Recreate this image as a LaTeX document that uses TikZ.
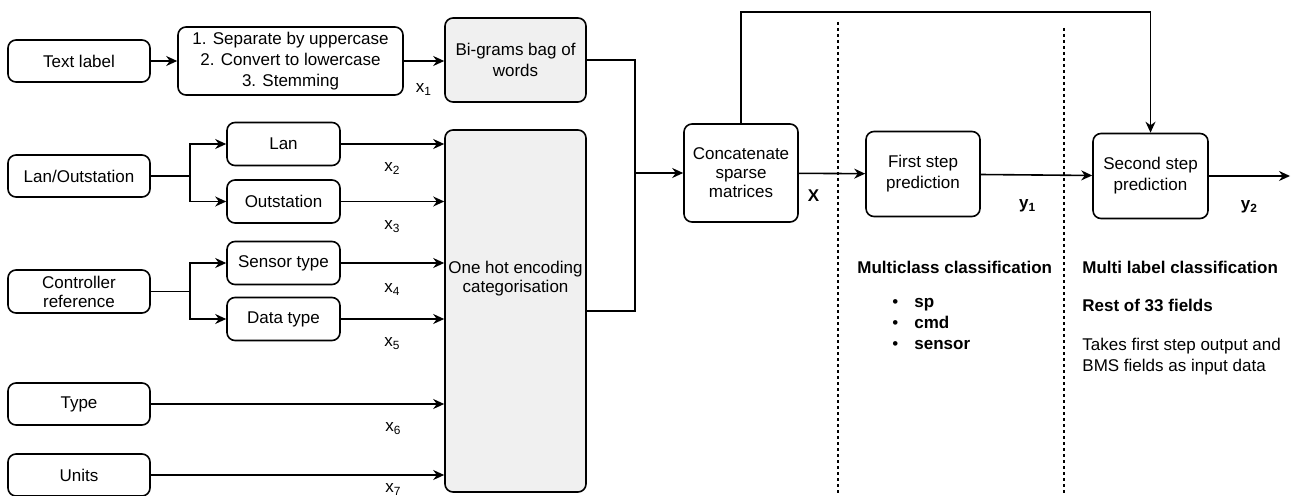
\documentclass[tikz,border=0pt]{standalone}
\usepackage{fontspec}
\setmainfont{Liberation Sans}
\usetikzlibrary{arrows.meta,positioning}
\definecolor{BoxGrey}{HTML}{F0F0F0}

\begin{document}
\begin{tikzpicture}[x=0.5pt,y=-0.5pt, every node/.style={font=\fontsize{8.5}{10.5}\selectfont}, box/.style={draw,rounded corners=4pt,align=center,line width=0.8pt,fill=white,inner sep=1pt}, wide/.style={box,minimum width=71pt,minimum height=21pt}, small/.style={box,minimum width=56.5pt,minimum height=21.5pt}, arr/.style={-{Stealth[length=5.5pt,width=5pt]},line width=0.8pt}, line/.style={line width=0.8pt}, sep/.style={line width=1pt,dash pattern=on 1.5pt off 1.5pt}, lbl/.style={inner sep=0pt}]
\useasboundingbox (0,0) rectangle (1293,496);
% inputs
\node[wide] (txt) at (79,61) {Text label};
\node[wide] (lanout) at (79,176) {Lan/Outstation};
\node[wide,minimum height=21.5pt] (ctrl) at (79,291.5) {Controller\\[-1pt]reference};
\node[wide] (type) at (79,404) {Type};
\node[wide] (units) at (79,475) {Units};
% preprocessing
\node[box,minimum width=112.5pt,minimum height=34pt] (prep) at (290.5,61) {1. Separate by uppercase\\2. Convert to lowercase\\3. Stemming};
\node[small] (lan) at (283.5,144) {Lan};
\node[small] (out) at (283.5,201.5) {Outstation};
\node[small] (sens) at (283.5,263) {Sensor type};
\node[small] (dtype) at (283.5,319) {Data type};
% encoding
\node[box,fill=BoxGrey,minimum width=70.5pt,minimum height=42pt] (bow) at (515.5,60) {Bi-grams bag of\\words};
\node[box,fill=BoxGrey,minimum width=70.5pt,minimum height=181pt] (onehot) at (515.5,311) {};
\node[lbl,align=center] (ohtxt) at (515.5,279) {One hot encoding\\[-1pt]categorisation};
% model
\node[box,minimum width=57pt,minimum height=49pt] (concat) at (741,173) {Concatenate\\[-1pt]sparse\\[-1pt]matrices};
\node[box,minimum width=57pt,minimum height=42.5pt] (first) at (923,174) {First step\\prediction};
\node[box,minimum width=57.5pt,minimum height=42.5pt] (second) at (1150.5,176) {Second step\\prediction};
\coordinate (join) at (635,173);
\coordinate (top) at (741,12);
\coordinate (out2) at (1290,176);
\coordinate (sp1) at (838,22);
\coordinate (sp2) at (1064,28);
% connectors
\draw[arr] (txt) -- (prep);
\draw[arr] (prep) -- node[lbl,below=11pt] {x\textsubscript{1}} (bow.west |- prep);
\draw[line] (lanout.east) -- ++(39,0) coordinate (b1);
\draw[arr] (b1) |- (lan);
\draw[arr] (b1) |- (out);
\draw[line] (ctrl.east) -- ++(39,0) coordinate (b2);
\draw[arr] (b2) |- (sens);
\draw[arr] (b2) |- (dtype);
\draw[arr] (lan) -- node[lbl,below=9pt] {x\textsubscript{2}} (onehot.west |- lan);
\draw[arr] (out) -- node[lbl,below=9pt] {x\textsubscript{3}} (onehot.west |- out);
\draw[arr] (sens) -- node[lbl,below=10pt] {x\textsubscript{4}} (onehot.west |- sens);
\draw[arr] (dtype) -- node[lbl,below=9pt] {x\textsubscript{5}} (onehot.west |- dtype);
\draw[arr] (type) -- node[lbl,below=9pt,xshift=48pt] {x\textsubscript{6}} (onehot.west |- type);
\draw[arr] (units) -- node[lbl,below=4pt,xshift=48pt] {x\textsubscript{7}} (onehot.west |- units);
\draw[line] (bow.east) -| (join);
\draw[line] (onehot.east) -| (join);
\draw[arr] (join) -- (concat);
\draw[arr] (concat) -- node[lbl,below=8pt,pos=0.22] {\textbf{X}} (first);
\draw[arr] (first) -- node[lbl,below=12pt,pos=0.42] {\textbf{y\textsubscript{1}}} (second);
\draw[arr] (second) -- node[lbl,below=12pt] {\textbf{y\textsubscript{2}}} (out2);
\draw[arr] (concat.north) -- (top) -| (second.north);
% separators
\draw[sep] (sp1) -- (sp1 |- 0,496);
\draw[sep] (sp2) -- (sp2 |- 0,496);
% notes
\node[lbl,anchor=west] (mc) at (857,267) {\textbf{Multiclass classification}};
\node[lbl,anchor=north west,align=left] (mcl) at (892,298) {\textbullet\hspace{8pt}\textbf{sp}\\\textbullet\hspace{8pt}\textbf{cmd}\\\textbullet\hspace{8pt}\textbf{sensor}};
\node[lbl,anchor=west] (ml) at (1082,267) {\textbf{Multi label classification}};
\node[lbl,anchor=west] (rest) at (1082,305) {\textbf{Rest of 33 fields}};
\node[lbl,anchor=north west,align=left] (takes) at (1082,338) {Takes first step output and\\BMS fields as input data};
\end{tikzpicture}
\end{document}
